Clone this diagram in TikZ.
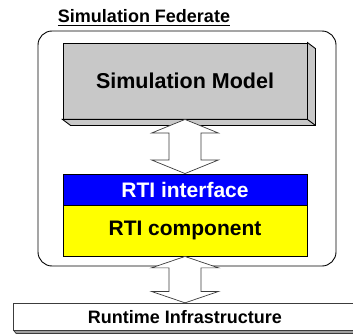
\documentclass[tikz,border=0pt]{standalone}
\usepackage{fontspec}
\setmainfont{Liberation Sans}
\usetikzlibrary{calc}

\definecolor{modelgray}{RGB}{200,200,200}
\definecolor{edgegray}{RGB}{60,60,60}
\definecolor{shadegray}{RGB}{160,160,160}

\tikzset{
  boxline/.style={draw=black, line width=0.9pt},
  layerbox/.style={boxline, minimum width=244pt, inner sep=0pt, font=\bfseries\fontsize{21}{24}\selectfont},
  hollowarrow/.style={draw=edgegray, fill=white, line width=0.7pt, line join=miter},
}

% Hollow two-headed block arrow between two tip points
% #1 top tip, #2 bottom tip, #3 head length
\newcommand\blockarrow[3]{%
  \draw[hollowarrow] let \p1=(#1), \p2=(#2) in
    (\x1,\y1) -- (\x1+33.5pt,\y1-#3) -- (\x1+16pt,\y1-#3) --
    (\x1+16pt,\y2+#3) -- (\x1+33.5pt,\y2+#3) -- (\x1,\y2) --
    (\x1-33.5pt,\y2+#3) -- (\x1-16pt,\y2+#3) -- (\x1-16pt,\y1-#3) --
    (\x1-33.5pt,\y1-#3) -- cycle;
}

\begin{document}
\begin{tikzpicture}[x=1pt,y=-1pt]
\useasboundingbox (0,0) rectangle (353,334);

% federate frame
\node[draw=black, line width=0.9pt, rounded corners=14pt, minimum width=298pt,
      minimum height=235pt, inner sep=0pt] (federate) at (187,148.5) {};

% title
\node[inner sep=0pt, font=\bfseries\fontsize{18}{21}\selectfont, anchor=base]
  (title) at (144,23) {Simulation Federate};
\draw[line width=1pt] ([yshift=-2.4pt]title.base west) -- ([yshift=-2.4pt]title.base east);

% simulation model block with its extruded faces
\node[boxline, fill=modelgray, minimum width=244pt, minimum height=76pt, inner sep=0pt,
      font=\bfseries\fontsize{21.5}{24}\selectfont] (model) at (185,81) {Simulation Model};
\draw[boxline, fill=modelgray, line join=miter]
  (model.north east) -- ++(8,6) -- ($(model.south east)+(8,6)$) --
  ($(model.south west)+(8,6)$) -- (model.south west) -- (model.south east) -- cycle;
\draw[boxline] (model.south east) -- ++(8,6);

% RTI layers
\node[layerbox, fill={rgb,255:red,0;green,0;blue,255}, text=white, minimum height=31pt]
  (rtiif) at (185,189.5) {RTI interface};
\node[layerbox, fill={rgb,255:red,255;green,255;blue,0}, minimum height=51pt]
  (rticomp) at (185,230.5) {RTI component};

% runtime infrastructure bar
\fill[shadegray] (13.3,330) -- (16.3,333.6) -- (360,333.6) -- (360,330) -- cycle;
\draw[edgegray, line width=0.8pt] (13.3,330) -- (16.3,333.6) -- (360,333.6);
\node[draw=edgegray, fill=white, line width=0.9pt, minimum width=346pt, minimum height=26.7pt,
      inner sep=0pt, font=\bfseries\fontsize{18}{21}\selectfont] (rti) at (186.3,316.65)
  {\hspace*{-2.6pt}Runtime Infrastructure};

% block arrows
\blockarrow{model.south}{rtiif.north}{13.6pt}
\blockarrow{rticomp.south}{rti.north}{11.4pt}
\end{tikzpicture}
\end{document}
